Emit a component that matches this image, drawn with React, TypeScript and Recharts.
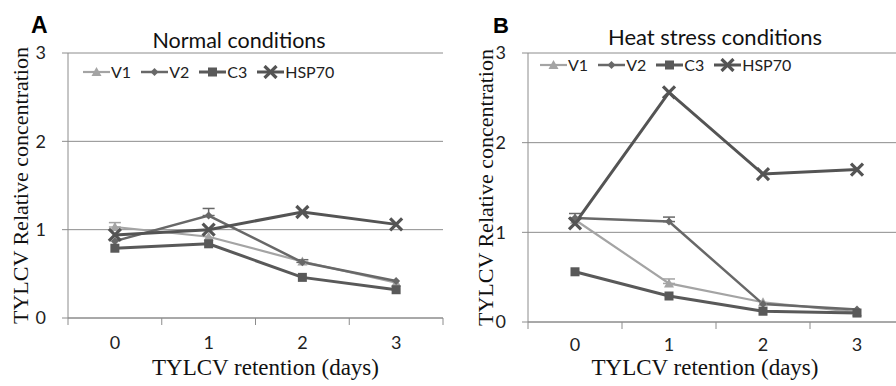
import React from "react";
import {
  CartesianGrid,
  ErrorBar,
  Label,
  Legend,
  Line,
  LineChart,
  XAxis,
  YAxis,
} from "recharts";

const days = [0, 1, 2, 3];
const yTicks = [0, 1, 2, 3];
// label positions plus the band edges where the small tick marks go
const xTicks = [-0.5, 0, 0.5, 1, 1.5, 2, 2.5, 3, 3.5];

// panel A - normal conditions
const normalV1 = [1.03, 0.92, 0.64, 0.4];
const normalV2 = [0.87, 1.16, 0.63, 0.42];
const normalC3 = [0.79, 0.84, 0.46, 0.32];
const normalHSP70 = [0.94, 1.0, 1.2, 1.06];
const normalV1Err = [0.05, null, null, null];
const normalV2Err = [null, 0.08, 0.03, null];

// panel B - heat stress conditions
const heatV1 = [1.14, 0.43, 0.22, 0.11];
const heatV2 = [1.16, 1.12, 0.2, 0.14];
const heatC3 = [0.56, 0.29, 0.12, 0.1];
const heatHSP70 = [1.1, 2.56, 1.65, 1.7];
const heatV1Err = [null, 0.05, null, null];
const heatV2Err = [0.05, 0.05, null, null];

const FONT_SANS = "Lato, 'Open Sans', sans-serif";
const FONT_SERIF = "'Liberation Serif', 'DejaVu Serif', serif";
const GRID = "#8c8c8c";

type Marker = "triangle" | "diamond" | "square" | "cross";

const series: { key: string; color: string; width: number; marker: Marker }[] = [
  { key: "V1", color: "#a4a4a4", width: 2.2, marker: "triangle" },
  { key: "V2", color: "#686868", width: 2.5, marker: "diamond" },
  { key: "C3", color: "#595959", width: 3, marker: "square" },
  { key: "HSP70", color: "#545454", width: 3, marker: "cross" },
];

const toRows = (
  v1: number[],
  v2: number[],
  c3: number[],
  hsp: number[],
  v1Err: (number | null)[],
  v2Err: (number | null)[]
) =>
  days.map((day, i) => ({
    day,
    V1: v1[i],
    V2: v2[i],
    C3: c3[i],
    HSP70: hsp[i],
    V1err: v1Err[i] != null ? [0, v1Err[i]] : null,
    V2err: v2Err[i] != null ? [0, v2Err[i]] : null,
  }));

const normalRows = toRows(normalV1, normalV2, normalC3, normalHSP70, normalV1Err, normalV2Err);
const heatRows = toRows(heatV1, heatV2, heatC3, heatHSP70, heatV1Err, heatV2Err);

function MarkerShape({ cx, cy, marker, color }: { cx: number; cy: number; marker: Marker; color: string }) {
  if (cx == null || cy == null) return null;
  switch (marker) {
    case "triangle":
      return <polygon points={`${cx},${cy - 5} ${cx - 5},${cy + 4} ${cx + 5},${cy + 4}`} fill={color} />;
    case "diamond":
      return <polygon points={`${cx},${cy - 4} ${cx + 4},${cy} ${cx},${cy + 4} ${cx - 4},${cy}`} fill={color} />;
    case "square":
      return <rect x={cx - 4.5} y={cy - 4.5} width={9} height={9} fill={color} />;
    default:
      return (
        <g stroke={color} strokeWidth={3.2}>
          <line x1={cx - 6} y1={cy - 6} x2={cx + 6} y2={cy + 6} />
          <line x1={cx - 6} y1={cy + 6} x2={cx + 6} y2={cy - 6} />
        </g>
      );
  }
}

function LegendContent() {
  return (
    <div style={{ display: "flex", alignItems: "center", fontFamily: FONT_SANS, fontSize: 16, color: "#222" }}>
      {series.map((s) => (
        <div key={s.key} style={{ display: "flex", alignItems: "center", marginRight: 10 }}>
          <svg width={27} height={14}>
            <line x1={0} y1={7} x2={27} y2={7} stroke={s.color} strokeWidth={s.width} />
            <MarkerShape cx={13.5} cy={7} marker={s.marker} color={s.color} />
          </svg>
          <span style={{ marginLeft: 1 }}>{s.key}</span>
        </div>
      ))}
    </div>
  );
}

// integer ticks get a label, half ticks get a short mark below the axis
function DayTick(props: any) {
  const { x, y, payload, tickGap } = props;
  const v = payload.value;
  if (Number.isInteger(v)) {
    return (
      <text x={x} y={y} dy="0.71em" textAnchor="middle" fill="#222" fontSize={18} fontFamily={FONT_SANS}>
        {v}
      </text>
    );
  }
  const axisY = y - tickGap;
  return <line x1={x} y1={axisY} x2={x} y2={axisY + 7} stroke={GRID} />;
}

interface PanelProps {
  rows: ReturnType<typeof toRows>;
  width: number;
  yAxisWidth: number;
  xAxisHeight: number;
  rightMargin: number;
  tickMargin: number;
  yTitleOffset: number;
  xTitleDx: number;
  legendLeft: number;
  legendTop: number;
}

function Panel(p: PanelProps) {
  return (
    <LineChart
      width={p.width}
      height={386}
      data={p.rows}
      margin={{ top: 53, right: p.rightMargin, left: 0, bottom: 0 }}
    >
      <CartesianGrid vertical={false} stroke={GRID} strokeWidth={1} />
      <XAxis
        dataKey="day"
        type="number"
        domain={[-0.5, 3.5]}
        ticks={xTicks}
        interval={0}
        height={p.xAxisHeight}
        tickLine={false}
        tickSize={0}
        tickMargin={p.tickMargin}
        axisLine={{ stroke: GRID }}
        tick={<DayTick tickGap={p.tickMargin} />}
      >
        <Label
          value="TYLCV retention (days)"
          position="insideBottom"
          offset={11}
          dx={p.xTitleDx}
          style={{ fill: "#111", fontSize: 23, fontFamily: FONT_SERIF }}
        />
      </XAxis>
      <YAxis
        domain={[0, 3]}
        ticks={yTicks}
        width={p.yAxisWidth}
        tickSize={6}
        tickMargin={16}
        axisLine={{ stroke: GRID }}
        tickLine={{ stroke: GRID }}
        tick={{ fill: "#222", fontSize: 18, fontFamily: FONT_SANS }}
      >
        <Label
          value="TYLCV  Relative concentration"
          angle={-90}
          position="insideLeft"
          offset={p.yTitleOffset}
          style={{ textAnchor: "middle", fill: "#111", fontSize: 22, fontFamily: FONT_SERIF }}
        />
      </YAxis>
      <Legend
        layout="horizontal"
        verticalAlign="middle"
        align="center"
        content={<LegendContent />}
        wrapperStyle={{ left: p.legendLeft, top: p.legendTop, width: "auto" }}
      />
      {series.map((s) => (
        <Line
          key={s.key}
          dataKey={s.key}
          stroke={s.color}
          strokeWidth={s.width}
          isAnimationActive={false}
          dot={(d: any) => (
            <MarkerShape key={`${s.key}-${d.index}`} cx={d.cx} cy={d.cy} marker={s.marker} color={s.color} />
          )}
          activeDot={false}
        >
          {(s.key === "V1" || s.key === "V2") && (
            <ErrorBar dataKey={`${s.key}err`} direction="y" width={6} stroke={s.color} strokeWidth={1.5} />
          )}
        </Line>
      ))}
    </LineChart>
  );
}

export default function App() {
  return (
    <div
      style={{
        position: "absolute",
        left: 0,
        top: 0,
        width: 896,
        height: 386,
        overflow: "hidden",
        background: "#fff",
      }}
    >
      <div style={{ position: "absolute", left: 0, top: 0 }}>
        <Panel
          rows={normalRows}
          width={448}
          yAxisWidth={68}
          xAxisHeight={68}
          rightMargin={5}
          tickMargin={18}
          yTitleOffset={20}
          xTitleDx={10}
          legendLeft={83}
          legendTop={62}
        />
      </div>
      <div style={{ position: "absolute", left: 448, top: 0 }}>
        <Panel
          rows={heatRows}
          width={460}
          yAxisWidth={80}
          xAxisHeight={64}
          rightMargin={4}
          tickMargin={16}
          yTitleOffset={37}
          xTitleDx={-11}
          legendLeft={92}
          legendTop={55}
        />
      </div>
      <svg width={896} height={386} style={{ position: "absolute", left: 0, top: 0, pointerEvents: "none" }}>
        <text x={31} y={33} fontFamily="'Liberation Sans', Arial, sans-serif" fontWeight="bold" fontSize={23} fill="#000">
          A
        </text>
        <text x={493} y={33} fontFamily="'Liberation Sans', Arial, sans-serif" fontWeight="bold" fontSize={22} fill="#000">
          B
        </text>
        <text x={239} y={48} textAnchor="middle" fontFamily={FONT_SANS} fontSize={21.5} fill="#111">
          Normal conditions
        </text>
        <text x={715} y={45} textAnchor="middle" fontFamily={FONT_SANS} fontSize={22} fill="#111">
          Heat stress conditions
        </text>
      </svg>
    </div>
  );
}
